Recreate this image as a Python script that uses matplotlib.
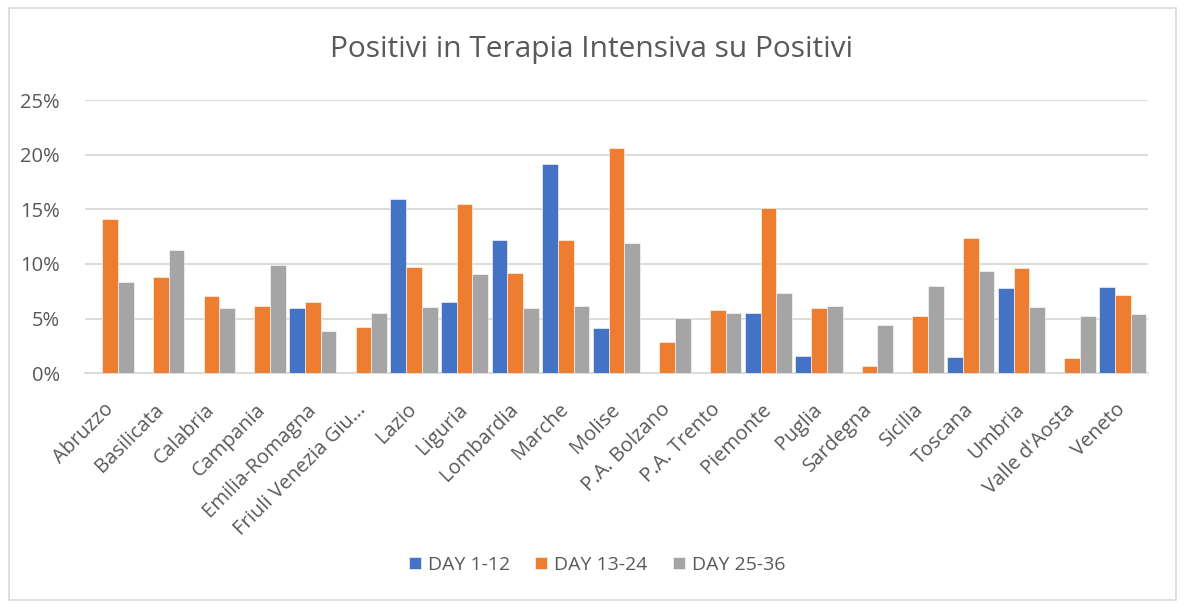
import matplotlib
matplotlib.use("Agg")
import matplotlib.pyplot as plt
import numpy as np
from matplotlib.patches import Rectangle
from matplotlib.ticker import FuncFormatter, MultipleLocator

regions = ["Abruzzo", "Basilicata", "Calabria", "Campania", "Emilia-Romagna",
           "Friuli Venezia Giu…", "Lazio", "Liguria", "Lombardia", "Marche",
           "Molise", "P.A. Bolzano", "P.A. Trento", "Piemonte", "Puglia",
           "Sardegna", "Sicilia", "Toscana", "Umbria", "Valle d'Aosta", "Veneto"]
day_1_12 = [0.0, 0.0, 0.0, 0.0, 5.98, 0.0, 15.98, 6.52, 12.23, 19.15, 4.12,
            0.0, 0.0, 5.55, 1.59, 0.0, 0.0, 1.49, 7.84, 0.0, 7.93]
day_13_24 = [14.09, 8.81, 7.07, 6.19, 6.52, 4.24, 9.70, 15.52, 9.18, 12.23, 20.58,
             2.90, 5.76, 15.09, 5.98, 0.70, 5.21, 12.35, 9.60, 1.37, 7.16]
day_25_36 = [8.38, 11.25, 5.98, 9.94, 3.90, 5.55, 6.10, 9.05, 5.98, 6.19, 11.89,
             5.09, 5.55, 7.32, 6.19, 4.45, 7.96, 9.36, 6.10, 5.21, 5.43]
series_names = ["DAY 1-12", "DAY 13-24", "DAY 25-36"]
colors = ["#4472C4", "#ED7D31", "#A5A5A5"]

plt.rcParams['font.family'] = ['Open Sans', 'DejaVu Sans']
text_color = "#595959"

fig = plt.figure(figsize=(11.88, 6.09), dpi=100)
fig.patches.append(Rectangle((8.5 / 1188, 1 - 600 / 609), (1175.5 - 8.5) / 1188, (600 - 8) / 609,
                             transform=fig.transFigure, fill=False, edgecolor="#D9D9D9",
                             linewidth=1.2))
ax = fig.add_axes([85 / 1188, 1 - 373.3 / 609, (1148 - 85) / 1188, (373.3 - 100) / 609])

x = np.arange(len(regions))
w = 0.31
for i, (vals, name, c) in enumerate(zip([day_1_12, day_13_24, day_25_36], series_names, colors)):
    ax.bar(x + (i - 1) * w, vals, width=w, color=c, label=name, zorder=3,
           edgecolor="white", linewidth=0.4)

ax.set_xlim(-0.5, len(regions) - 0.5)
ax.set_ylim(0, 25)
ax.yaxis.set_major_locator(MultipleLocator(5))
ax.yaxis.set_major_formatter(FuncFormatter(lambda v, p: f"{v:.0f}%"))
ax.grid(axis='y', color="#D9D9D9", linewidth=1.3, zorder=0)
ax.set_axisbelow(True)
for s in ["top", "right", "left"]:
    ax.spines[s].set_visible(False)
ax.spines["bottom"].set_color("#D9D9D9")
ax.spines["bottom"].set_linewidth(1.3)
ax.tick_params(axis='both', length=0, colors=text_color, labelsize=14.5)
ax.tick_params(axis='y', pad=18)
ax.set_xticks(x)
ax.set_xticklabels(regions, rotation=45, ha='right', va='center', rotation_mode='anchor')
ax.tick_params(axis='x', pad=24)

fig.text(592 / 1188, 1 - 50 / 609, "Positivi in Terapia Intensiva su Positivi",
         ha='center', va='center', fontsize=21.5, color=text_color)

leg = fig.legend(loc='center', bbox_to_anchor=(597 / 1188, 1 - 565 / 609), ncol=3,
                 frameon=False, fontsize=14, handlelength=0.62, handleheight=0.62,
                 handletextpad=0.36, columnspacing=1.3)
for t in leg.get_texts():
    t.set_color(text_color)

fig.savefig("out.png", dpi=100)
